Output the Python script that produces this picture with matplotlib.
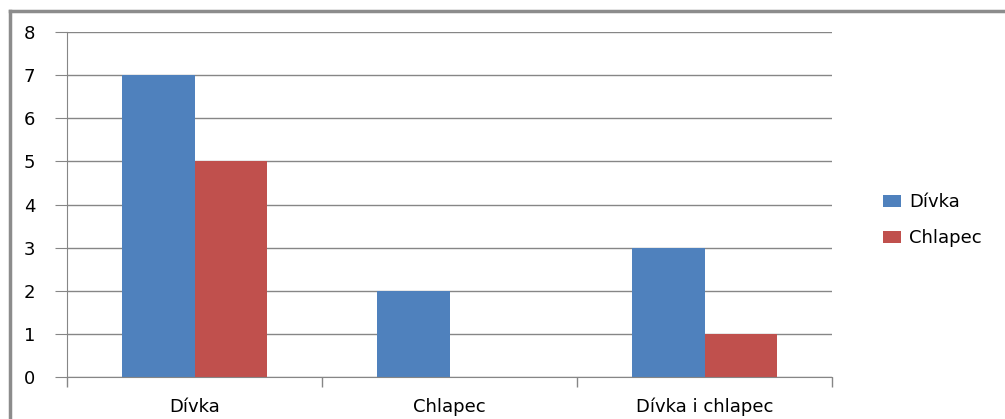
import numpy as np
import matplotlib.pyplot as plt
from matplotlib.lines import Line2D

categories = ['Dívka', 'Chlapec', 'Dívka i chlapec']
divka = [7, 2, 3]
chlapec = [5, 0, 1]
series_names = ['Dívka', 'Chlapec']

blue = '#4F81BD'
red = '#C0504D'
grid_col = '#868686'

fig = plt.figure(figsize=(10.05, 4.19), dpi=100)
ax = fig.add_axes([0.0667, 0.1002, 0.7612, 0.8234])

x = np.arange(len(categories))
w = 1 / 3.5
ax.bar(x - w / 2, divka, w, color=blue, label=series_names[0])
ax.bar(x + w / 2, chlapec, w, color=red, label=series_names[1])

ax.set_xlim(-0.5, len(categories) - 0.5)
ax.set_ylim(0, 8)
ax.set_yticks(range(0, 9))
ax.yaxis.grid(True, color=grid_col, linewidth=1)
ax.set_axisbelow(True)

for s in ['top', 'right']:
    ax.spines[s].set_visible(False)
ax.spines['left'].set_color(grid_col)
ax.spines['bottom'].set_color(grid_col)

ax.set_xticks(x)
ax.set_xticklabels(categories, fontsize=13)
ax.tick_params(axis='x', length=0, pad=15)
ax.set_xticks(np.arange(-0.5, len(categories)), minor=True)
ax.tick_params(axis='x', which='minor', length=7, color=grid_col, width=1)
ax.tick_params(axis='y', length=9, color=grid_col, labelsize=13, pad=14)

ax.legend(loc='center left', bbox_to_anchor=(1.045, 0.455), frameon=False,
          fontsize=13, handlelength=1.0, handleheight=0.65, handletextpad=0.45,
          labelspacing=1.0)

# chart border (top and left only)
fig.add_artist(Line2D([0.0095, 1.0], [0.973, 0.973], color='#8c8c8c', lw=2.5,
                      transform=fig.transFigure))
fig.add_artist(Line2D([0.0095, 0.0095], [0.0, 0.973], color='#8c8c8c', lw=2.5,
                      transform=fig.transFigure))

fig.savefig('out.png', dpi=100)
